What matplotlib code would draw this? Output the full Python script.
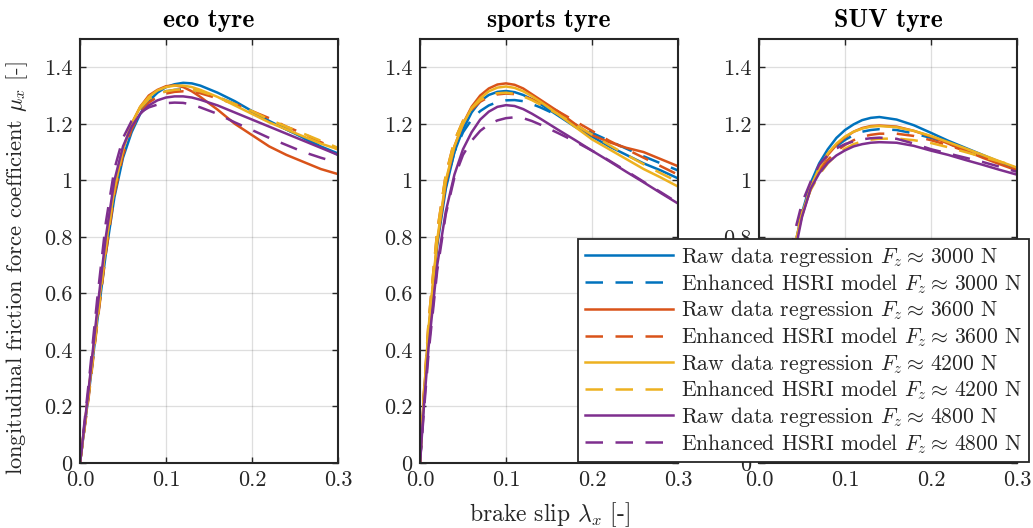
import numpy as np
import matplotlib
matplotlib.use('Agg')
import matplotlib.pyplot as plt

plt.rcParams['font.family'] = ['cmr10', 'DejaVu Serif']
plt.rcParams['mathtext.fontset'] = 'cm'
plt.rcParams['axes.formatter.use_mathtext'] = True

# brake slip grid (x values)
slip = [0, 0.005, 0.01, 0.02, 0.03, 0.04, 0.05, 0.06, 0.07, 0.08, 0.09, 0.10,
        0.11, 0.12, 0.13, 0.14, 0.16, 0.18, 0.20, 0.22, 0.24, 0.26, 0.28, 0.30]

loads = [3000, 3600, 4200, 4800]
tyres = ['eco tyre', 'sports tyre', 'SUV tyre']

# eco tyre
eco_raw_3000 = [0, 0.12, 0.24, 0.50, 0.74, 0.94, 1.08, 1.17, 1.235, 1.28, 1.31, 1.33, 1.34, 1.345, 1.343, 1.335, 1.31, 1.28, 1.245, 1.21, 1.18, 1.15, 1.12, 1.095]
eco_hsri_3000 = [0, 0.12, 0.24, 0.50, 0.75, 0.96, 1.10, 1.19, 1.25, 1.285, 1.305, 1.315, 1.32, 1.322, 1.32, 1.315, 1.295, 1.27, 1.24, 1.21, 1.18, 1.15, 1.12, 1.09]
eco_raw_3600 = [0, 0.125, 0.25, 0.52, 0.77, 0.97, 1.11, 1.20, 1.26, 1.30, 1.32, 1.333, 1.336, 1.33, 1.315, 1.295, 1.25, 1.20, 1.16, 1.12, 1.09, 1.065, 1.04, 1.022]
eco_hsri_3600 = [0, 0.115, 0.23, 0.49, 0.74, 0.95, 1.09, 1.18, 1.24, 1.275, 1.295, 1.307, 1.313, 1.315, 1.313, 1.308, 1.29, 1.27, 1.245, 1.22, 1.19, 1.165, 1.135, 1.11]
eco_raw_4200 = [0, 0.125, 0.25, 0.52, 0.77, 0.97, 1.11, 1.20, 1.26, 1.295, 1.318, 1.33, 1.335, 1.335, 1.33, 1.32, 1.295, 1.265, 1.235, 1.205, 1.18, 1.155, 1.13, 1.11]
eco_hsri_4200 = [0, 0.12, 0.24, 0.50, 0.76, 0.97, 1.11, 1.20, 1.255, 1.288, 1.305, 1.315, 1.32, 1.322, 1.32, 1.315, 1.295, 1.27, 1.245, 1.215, 1.19, 1.165, 1.14, 1.115]
eco_raw_4800 = [0, 0.13, 0.26, 0.54, 0.80, 1.00, 1.12, 1.19, 1.235, 1.265, 1.283, 1.293, 1.297, 1.297, 1.293, 1.285, 1.265, 1.24, 1.215, 1.19, 1.165, 1.14, 1.115, 1.09]
eco_hsri_4800 = [0, 0.14, 0.28, 0.58, 0.85, 1.04, 1.15, 1.21, 1.24, 1.258, 1.268, 1.273, 1.275, 1.274, 1.268, 1.258, 1.235, 1.205, 1.178, 1.15, 1.125, 1.10, 1.08, 1.062]

# sports tyre
sport_raw_3000 = [0, 0.25, 0.46, 0.77, 0.97, 1.10, 1.18, 1.24, 1.28, 1.302, 1.313, 1.316, 1.312, 1.302, 1.287, 1.27, 1.23, 1.19, 1.155, 1.12, 1.09, 1.06, 1.035, 1.007]
sport_hsri_3000 = [0, 0.25, 0.47, 0.79, 0.98, 1.10, 1.17, 1.215, 1.245, 1.265, 1.277, 1.283, 1.284, 1.28, 1.27, 1.258, 1.23, 1.198, 1.168, 1.14, 1.112, 1.085, 1.06, 1.035]
sport_raw_3600 = [0, 0.26, 0.47, 0.78, 0.99, 1.12, 1.20, 1.26, 1.30, 1.325, 1.339, 1.343, 1.338, 1.325, 1.305, 1.285, 1.245, 1.20, 1.16, 1.135, 1.115, 1.10, 1.075, 1.05]
sport_hsri_3600 = [0, 0.27, 0.50, 0.82, 1.02, 1.14, 1.21, 1.25, 1.278, 1.295, 1.304, 1.307, 1.305, 1.298, 1.287, 1.274, 1.245, 1.21, 1.175, 1.14, 1.11, 1.08, 1.05, 1.02]
sport_raw_4200 = [0, 0.26, 0.48, 0.79, 1.00, 1.12, 1.20, 1.255, 1.29, 1.315, 1.328, 1.332, 1.327, 1.315, 1.298, 1.278, 1.235, 1.19, 1.145, 1.11, 1.075, 1.04, 1.01, 0.978]
sport_hsri_4200 = [0, 0.27, 0.50, 0.82, 1.02, 1.14, 1.21, 1.255, 1.283, 1.30, 1.308, 1.31, 1.306, 1.297, 1.284, 1.268, 1.235, 1.198, 1.162, 1.125, 1.09, 1.057, 1.025, 0.995]
sport_raw_4800 = [0, 0.22, 0.41, 0.70, 0.89, 1.02, 1.11, 1.17, 1.215, 1.243, 1.26, 1.266, 1.263, 1.252, 1.236, 1.218, 1.18, 1.143, 1.105, 1.068, 1.03, 0.993, 0.955, 0.918]
sport_hsri_4800 = [0, 0.20, 0.39, 0.68, 0.88, 1.01, 1.09, 1.14, 1.175, 1.198, 1.212, 1.22, 1.223, 1.22, 1.21, 1.197, 1.168, 1.138, 1.105, 1.07, 1.033, 0.995, 0.958, 0.92]

# SUV tyre
suv_raw_3000 = [0, 0.095, 0.19, 0.38, 0.57, 0.745, 0.885, 0.99, 1.06, 1.11, 1.15, 1.178, 1.198, 1.213, 1.221, 1.224, 1.215, 1.195, 1.168, 1.14, 1.115, 1.09, 1.065, 1.042]
suv_hsri_3000 = [0, 0.10, 0.20, 0.40, 0.59, 0.76, 0.89, 0.98, 1.045, 1.09, 1.12, 1.143, 1.16, 1.172, 1.178, 1.181, 1.178, 1.166, 1.15, 1.13, 1.108, 1.086, 1.064, 1.042]
suv_raw_3600 = [0, 0.095, 0.19, 0.38, 0.57, 0.745, 0.875, 0.97, 1.04, 1.09, 1.125, 1.152, 1.172, 1.185, 1.192, 1.194, 1.19, 1.175, 1.155, 1.13, 1.105, 1.08, 1.057, 1.035]
suv_hsri_3600 = [0, 0.10, 0.20, 0.40, 0.59, 0.76, 0.885, 0.97, 1.03, 1.072, 1.103, 1.125, 1.142, 1.154, 1.161, 1.165, 1.165, 1.157, 1.142, 1.124, 1.104, 1.084, 1.063, 1.043]
suv_raw_4200 = [0, 0.095, 0.19, 0.38, 0.57, 0.75, 0.88, 0.975, 1.045, 1.095, 1.13, 1.155, 1.172, 1.183, 1.19, 1.192, 1.188, 1.175, 1.157, 1.135, 1.113, 1.09, 1.067, 1.045]
suv_hsri_4200 = [0, 0.10, 0.20, 0.40, 0.59, 0.76, 0.885, 0.965, 1.02, 1.06, 1.09, 1.112, 1.128, 1.138, 1.144, 1.147, 1.148, 1.142, 1.132, 1.117, 1.10, 1.083, 1.066, 1.05]
suv_raw_4800 = [0, 0.09, 0.18, 0.36, 0.54, 0.72, 0.87, 0.97, 1.025, 1.062, 1.088, 1.106, 1.12, 1.128, 1.133, 1.135, 1.133, 1.122, 1.105, 1.09, 1.072, 1.055, 1.037, 1.02]
suv_hsri_4800 = [0, 0.105, 0.21, 0.42, 0.62, 0.80, 0.92, 0.995, 1.055, 1.09, 1.113, 1.128, 1.138, 1.145, 1.149, 1.151, 1.147, 1.13, 1.11, 1.095, 1.08, 1.065, 1.048, 1.03]

raw_curves = [
    [eco_raw_3000, eco_raw_3600, eco_raw_4200, eco_raw_4800],
    [sport_raw_3000, sport_raw_3600, sport_raw_4200, sport_raw_4800],
    [suv_raw_3000, suv_raw_3600, suv_raw_4200, suv_raw_4800],
]
hsri_curves = [
    [eco_hsri_3000, eco_hsri_3600, eco_hsri_4200, eco_hsri_4800],
    [sport_hsri_3000, sport_hsri_3600, sport_hsri_4200, sport_hsri_4800],
    [suv_hsri_3000, suv_hsri_3600, suv_hsri_4200, suv_hsri_4800],
]

colors = ['#0072BD', '#D95319', '#EDB120', '#7E2F8E']  # matlab default order

xticks = [0, 0.1, 0.2, 0.3]
xtick_labels = ['0.0', '0.1', '0.2', '0.3']
yticks = [0, 0.2, 0.4, 0.6, 0.8, 1, 1.2, 1.4]
ytick_labels = ['0', '0.2', '0.4', '0.6', '0.8', '1', '1.2', '1.4']

W, H = 1033, 528
fig = plt.figure(figsize=(W / 100, H / 100), dpi=100)

lefts = [80, 420, 759]
axes = []
for i, left in enumerate(lefts):
    ax = fig.add_axes([left / W, 65 / H, 258 / W, 424 / H])
    for j, fz in enumerate(loads):
        ax.plot(slip, raw_curves[i][j], color=colors[j], lw=1.8,
                label=r'Raw data regression $F_z \approx\,$' + '%d N' % fz)
        ax.plot(slip, hsri_curves[i][j], color=colors[j], lw=1.8,
                dashes=(7, 5),
                label=r'Enhanced HSRI model $F_z \approx\,$' + '%d N' % fz)
    ax.set_xlim(0, 0.3)
    ax.set_ylim(0, 1.5)
    ax.set_xticks(xticks)
    ax.set_xticklabels(xtick_labels)
    ax.set_yticks(yticks)
    ax.set_yticklabels(ytick_labels)
    ax.grid(True, color='#262626', alpha=0.15, lw=0.9)
    ax.tick_params(direction='in', top=True, right=True, length=4.5, width=1,
                   labelsize=16, colors='#262626', pad=5.5)
    for sp in ax.spines.values():
        sp.set_linewidth(1.5)
        sp.set_color('#262626')
    ax.set_title(tyres[i], fontfamily='cmb10', fontsize=18.5, pad=9)
    axes.append(ax)

axes[0].set_ylabel(r'longitudinal friction force coefficient $\mu_x$ [-]',
                   fontsize=16.2, color='#262626')
axes[0].yaxis.set_label_coords(-0.192, 0.46)
axes[1].set_xlabel(r'brake slip $\lambda_x$ [-]', fontsize=17, color='#262626',
                   labelpad=7)

handles, labels = axes[0].get_legend_handles_labels()
leg = fig.legend(handles, labels, loc='lower right',
                 bbox_to_anchor=(1029 / W, 66 / H), borderaxespad=0,
                 fontsize=15.6, handlelength=4.1, handletextpad=0.37,
                 labelspacing=0.13, borderpad=0.3, fancybox=False,
                 framealpha=1, edgecolor='#262626')
leg.get_frame().set_linewidth(1.3)
for t in leg.get_texts():
    t.set_color('#262626')

fig.savefig('out.png', dpi=100)
